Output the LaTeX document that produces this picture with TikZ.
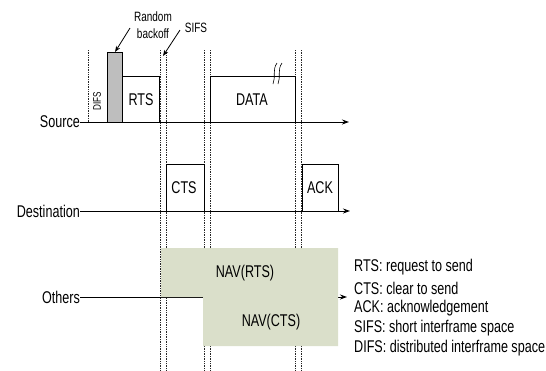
\documentclass[tikz,border=0pt]{standalone}
\usepackage{fontspec}
\setmainfont[FakeStretch=0.74]{Liberation Sans}
\usetikzlibrary{arrows.meta}
\definecolor{navfill}{RGB}{218,223,202}
\definecolor{bofill}{RGB}{190,190,190}
\tikzset{
  lbl/.style={inner sep=0pt, font=\fontsize{17}{20}\selectfont},
  small/.style={inner sep=0pt, font=\fontsize{13.5}{15}\selectfont},
  frame/.style={draw=black, line width=0.9pt},
  timeline/.style={draw=black, line width=0.9pt, -{Stealth[length=7pt,width=5pt]}},
  guide/.style={draw=black!85, line width=0.7pt, densely dotted},
  pointer/.style={draw=black, line width=0.8pt, -{Stealth[length=6pt,width=4.5pt]}},
}
\begin{document}
\begin{tikzpicture}[x=1pt,y=-1pt]
\useasboundingbox (0,0) rectangle (546,370);
% vertical guides
\draw[guide] (88,50) -- (88,122);
\foreach \gx in {160,166,204,210,295,301}{
  \draw[guide] (\gx,50) -- (\gx,370);
}
% axes
\node[lbl, anchor=east] (src) at (80,122) {Source};
\node[lbl, anchor=east] (dst) at (80,211) {Destination};
\node[lbl, anchor=east] (oth) at (80,297) {Others};
\coordinate (srcend) at (349,122);
\coordinate (dstend) at (350,211);
\coordinate (othend) at (347,297);
\draw[timeline] (src.east) -- (srcend);
\draw[timeline] (dst.east) -- (dstend);
\draw[timeline] (oth.east) -- (othend);
% NAV region
\fill[navfill] (161,248) -- (338,248) -- (338,346) -- (203,346) -- (203,297) -- (161,297) -- cycle;
\node[lbl] (navrts) at (245,273) {NAV(RTS)};
\node[lbl] (navcts) at (271,322) {NAV(CTS)};
% source frames
\draw[frame, fill=bofill] (107,122) rectangle (122,52);
\coordinate (bo) at (115,52);
\draw[frame] (122,76) -- (159,76) -- (159,122);
\node[lbl] (rts) at (141,100) {RTS};
\draw[frame] (210,122) -- (210,76) -- (295,76) -- (295,122);
\node[lbl] (data) at (252,100) {DATA};
\draw[line width=0.6pt] (277,63) .. controls (272,70) and (276,77) .. (273,84);
\draw[line width=0.6pt] (282,63) .. controls (277,70) and (281,77) .. (278,84);
\node[inner sep=0pt, font=\fontsize{11}{12}\selectfont, rotate=90] (difs) at (97,101) {DIFS};
% destination frames
\draw[frame] (166,211) -- (166,164) -- (204,164) -- (204,211);
\node[lbl] (cts) at (184,188) {CTS};
\draw[frame] (302,211) -- (302,164) -- (338,164) -- (338,211);
\node[lbl] (ack) at (320,188) {ACK};
% annotations
\node[small, align=center] (rb) at (153,25) {Random\\[2pt]backoff};
\node[small] (sifs) at (196,28) {SIFS};
\coordinate (rbstart) at (130,28);
\coordinate (sifsstart) at (180,30);
\coordinate (sifsend) at (163,56);
\draw[pointer] (rbstart) -- (bo);
\draw[pointer] (sifsstart) -- (sifsend);
% legend
\node[lbl, anchor=west] (l1) at (354,267) {RTS: request to send};
\node[lbl, anchor=west] (l2) at (354,288) {CTS: clear to send};
\node[lbl, anchor=west] (l3) at (354,308) {ACK: acknowledgement};
\node[lbl, anchor=west] (l4) at (354,328) {SIFS: short interframe space};
\node[lbl, anchor=west] (l5) at (354,348) {DIFS: distributed interframe space};
\end{tikzpicture}
\end{document}
